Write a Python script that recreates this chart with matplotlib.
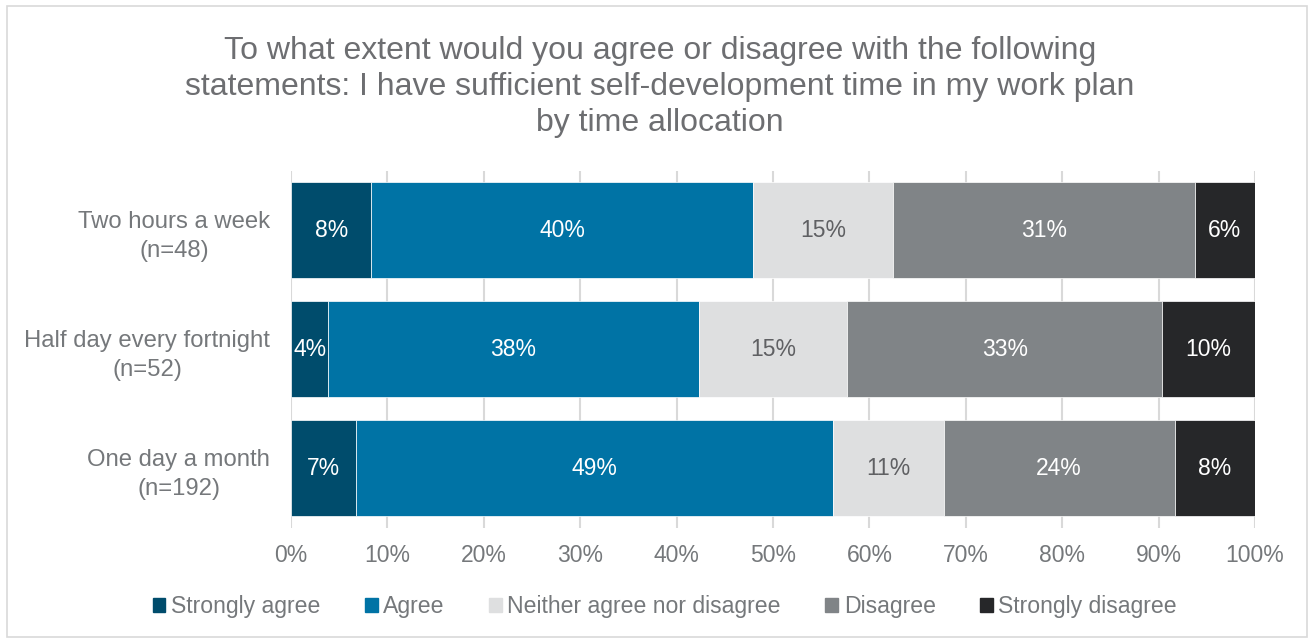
import matplotlib.pyplot as plt
import matplotlib.patches as mpatches
import numpy as np

plt.rcParams["font.family"] = ["Liberation Sans", "DejaVu Sans"]

groups = ["Two hours a week\n(n=48)", "Half day every fortnight\n(n=52)", "One day a month\n(n=192)"]
responses = ["Strongly agree", "Agree", "Neither agree nor disagree", "Disagree", "Strongly disagree"]
# share of respondents per answer, in percent
strongly_agree = [8.33, 3.85, 6.77]
agree = [39.58, 38.46, 49.48]
neither = [14.58, 15.38, 11.46]
disagree = [31.25, 32.69, 23.96]
strongly_disagree = [6.25, 9.62, 8.33]

colors = ["#004c6c", "#0073a5", "#dedfe0", "#808487", "#262729"]
label_colors = ["white", "white", "#5f6063", "white", "white"]
text_grey = "#75787b"

series = [strongly_agree, agree, neither, disagree, strongly_disagree]

fig = plt.figure(figsize=(13.14, 6.42), dpi=100)
ax = fig.add_axes([0.2215, 0.1783, 0.7336, 0.5561])

fig.patches.append(mpatches.Rectangle((0.005, 0.008), 0.99, 0.983, transform=fig.transFigure,
                                      fill=False, edgecolor="#d9d9d9", linewidth=1.2))

y = np.arange(len(groups))
left = np.zeros(len(groups))
for vals, name, col, lc in zip(series, responses, colors, label_colors):
    vals = np.array(vals)
    ax.barh(y, vals, left=left, height=0.8, color=col, edgecolor="white",
            linewidth=0.5, label=name, zorder=3)
    for yi, l, v in zip(y, left, vals):
        ax.text(l + v / 2, yi, f"{v:.0f}%", ha="center", va="center",
                color=lc, fontsize=16.5, zorder=4)
    left += vals

ax.set_xlim(0, 100)
ax.set_ylim(2.5, -0.5)
ax.set_xticks(np.arange(0, 101, 10))
ax.set_xticklabels([f"{t}%" for t in range(0, 101, 10)])
ax.set_yticks(y)
ax.set_yticklabels(groups, linespacing=1.45, multialignment="center")
ax.tick_params(axis="x", colors=text_grey, labelsize=16.5, length=0, pad=12)
ax.tick_params(axis="y", colors=text_grey, labelsize=17.2, length=0, pad=15)
ax.grid(axis="x", color="#d9d9d9", linewidth=1.5, zorder=0)
for s in ax.spines.values():
    s.set_visible(False)

fig.text(0.502, 0.865,
         "To what extent would you agree or disagree with the following\n"
         "statements: I have sufficient self-development time in my work plan\n"
         "by time allocation",
         ha="center", va="center", fontsize=23, color="#6d6e71", linespacing=1.26)

handles = [mpatches.Patch(color=c) for c in colors]
fig.legend(handles, responses, loc="center", bbox_to_anchor=(0.506, 0.055), ncol=5,
           frameon=False, fontsize=16.6, labelcolor=text_grey, handlelength=0.55,
           handleheight=0.55, handletextpad=0.25, columnspacing=1.92)

fig.savefig("out.png", dpi=100)
